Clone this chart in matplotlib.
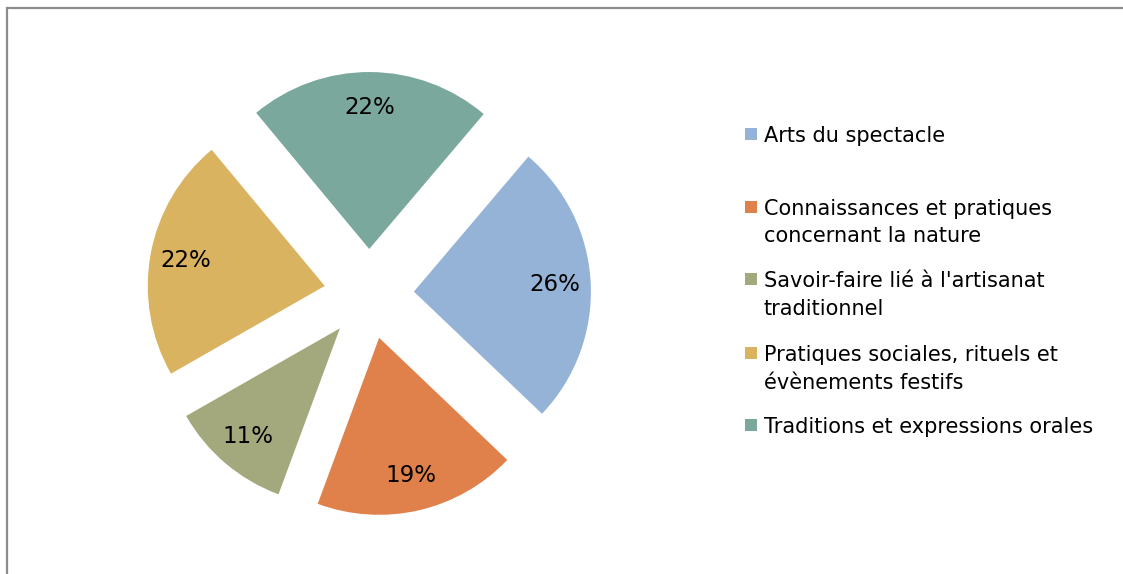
import matplotlib
matplotlib.use("Agg")
import matplotlib.pyplot as plt
from matplotlib.patches import Rectangle

categories = ["Arts du spectacle",
              "Connaissances et pratiques concernant la nature",
              "Savoir-faire lié à l'artisanat traditionnel",
              "Pratiques sociales, rituels et évènements festifs",
              "Traditions et expressions orales"]
legend_labels = ["Arts du spectacle",
                 "Connaissances et pratiques\nconcernant la nature",
                 "Savoir-faire lié à l'artisanat\ntraditionnel",
                 "Pratiques sociales, rituels et\névènements festifs",
                 "Traditions et expressions orales"]
values = [7, 5, 3, 6, 6]
colors = ["#95B3D7", "#E0804A", "#A4A97D", "#D9B35F", "#7BA89C"]

W, H = 1123, 574
plt.rcParams['font.family'] = ['DejaVu Sans']
fig = plt.figure(figsize=(W / 100, H / 100), dpi=100)

cx, cy, R = 369, 294, 177
ax = fig.add_axes([0, 0, 1, 1])
ax.pie(values, colors=colors, startangle=49.7, counterclock=False,
       explode=[0.254] * len(values), radius=1.0, center=(0, 0),
       autopct=lambda p: f"{p:.0f}%", pctdistance=0.8,
       textprops=dict(fontsize=16.5, color="black"),
       wedgeprops=dict(linewidth=0))
ax.set_xlim(-cx / R, (W - cx) / R)
ax.set_ylim(-(H - cy) / R, cy / R)
ax.set_aspect("auto")
ax.axis("off")

# chart border
fig.patches.append(Rectangle((7 / W, -0.1), 1.2, (H - 8) / H + 0.1,
                             transform=fig.transFigure, fill=False,
                             edgecolor="#8c8c8c", linewidth=1.6))

# legend (baselines of each line, in pixels from top)
baselines = [[142], [215, 242], [287, 315], [361, 389], [433]]
for lab, col, bls in zip(legend_labels, colors, baselines):
    b0 = bls[0]
    fig.patches.append(Rectangle((745 / W, 1 - (b0 - 2) / H), 12 / W, 12 / H,
                                 transform=fig.transFigure, facecolor=col,
                                 edgecolor="none"))
    for line, b in zip(lab.split("\n"), bls):
        fig.text(764 / W, 1 - b / H, line, fontsize=15, va="baseline",
                 ha="left", color="black")

fig.savefig("out.png", dpi=100)
